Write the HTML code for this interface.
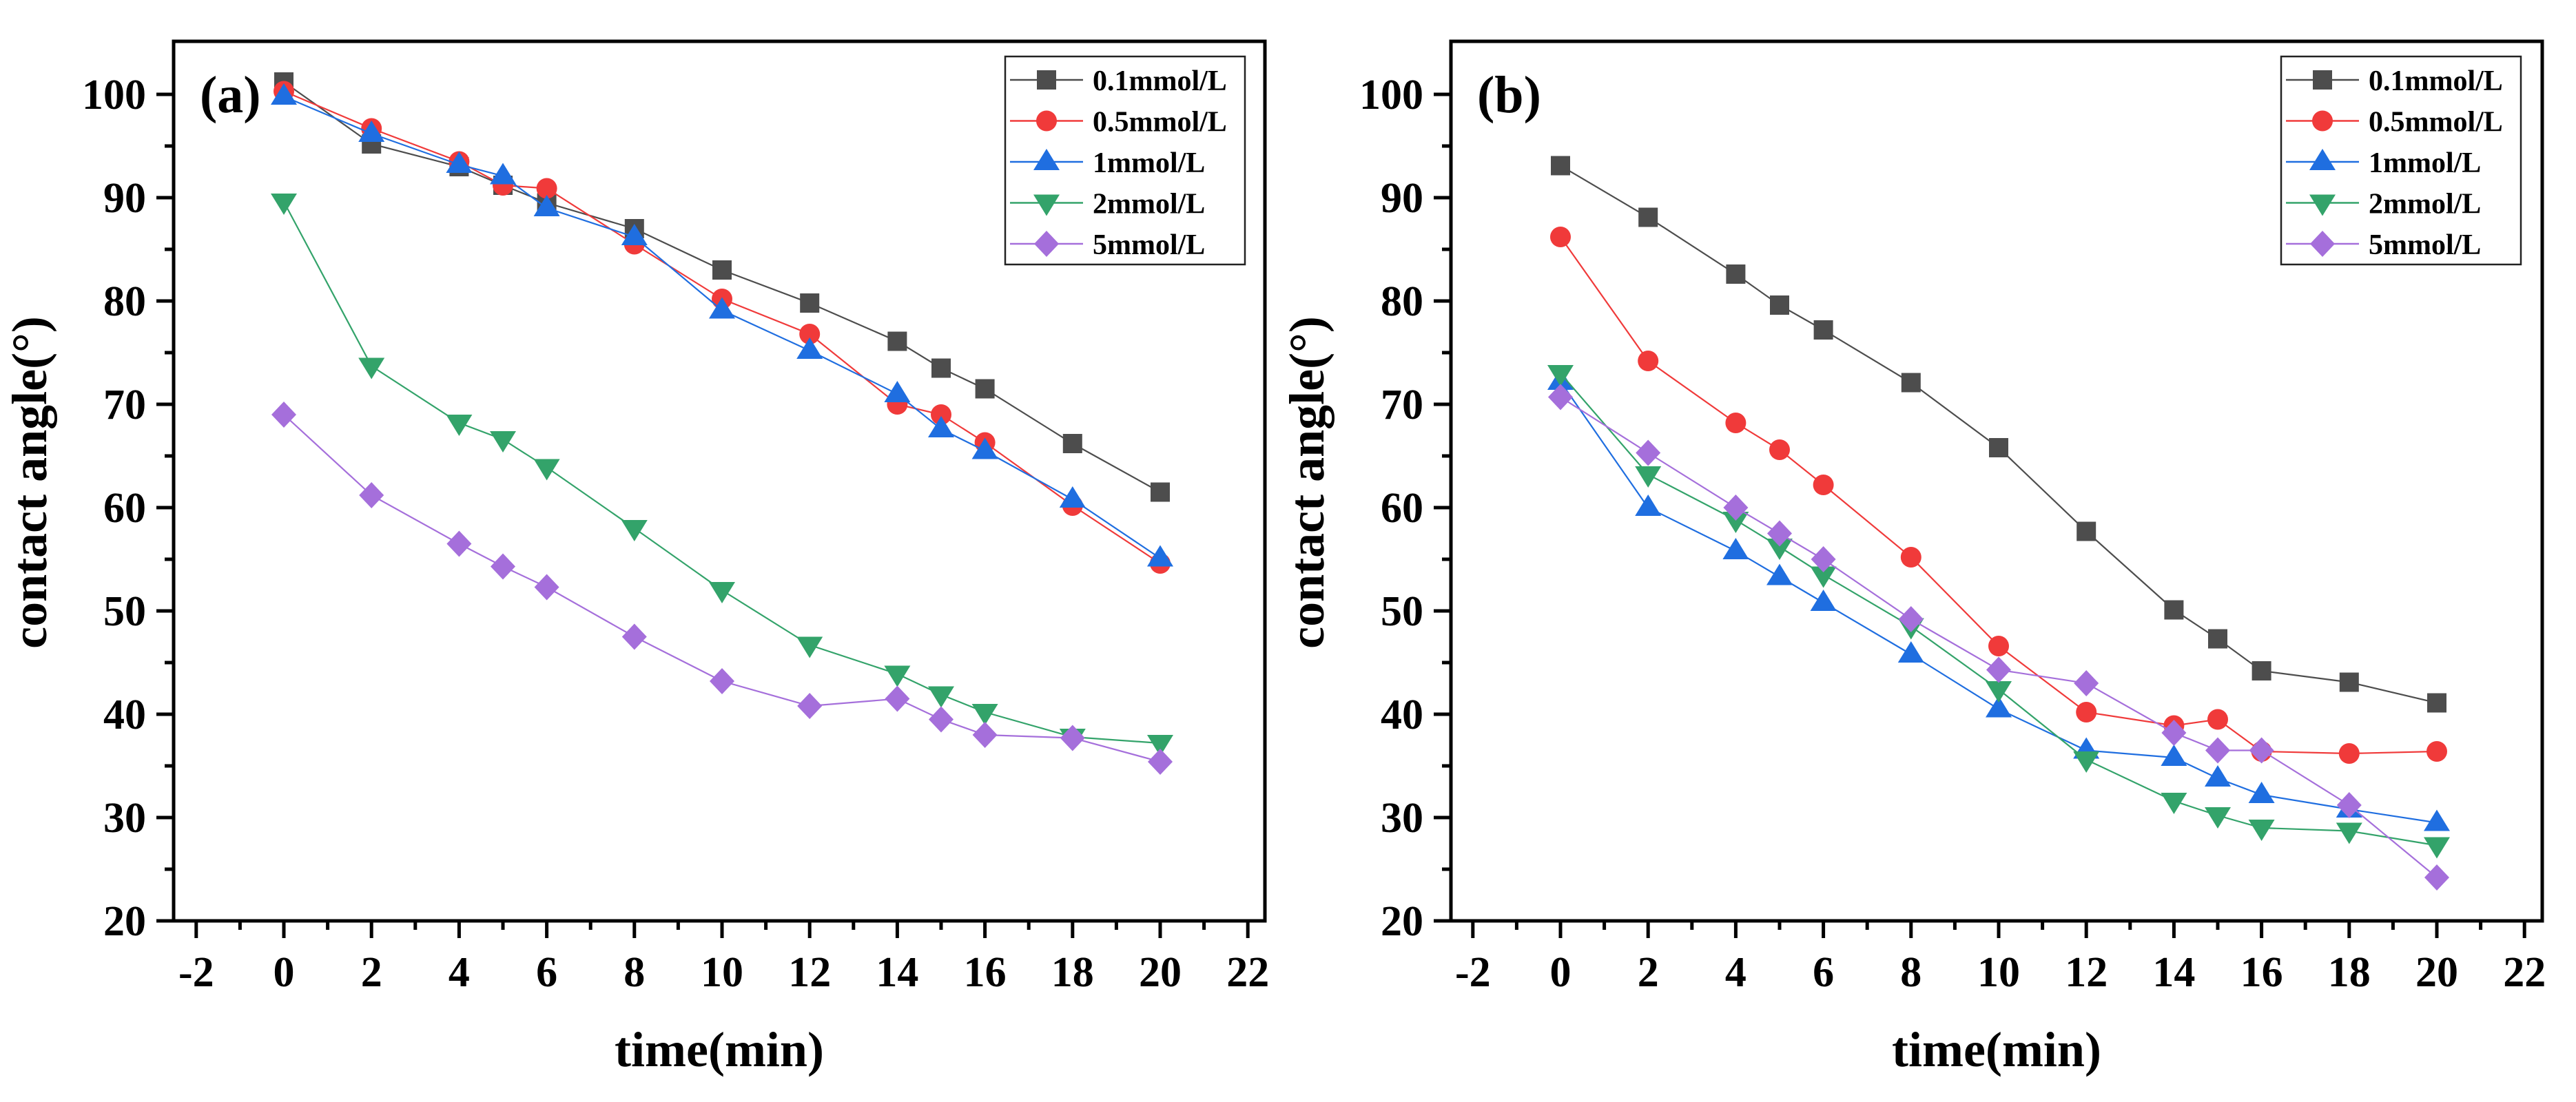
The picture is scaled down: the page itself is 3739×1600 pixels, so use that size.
<!DOCTYPE html>
<html><head><meta charset="utf-8"><style>
html,body{margin:0;padding:0;background:#fff;}
svg{display:block;font-family:"Liberation Serif",serif;font-weight:bold;}
</style></head><body>
<svg id="chart" width="3739" height="1600" viewBox="0 0 3739 1600" xmlns="http://www.w3.org/2000/svg"></svg>
<script>
const times = [0,2,4,5,6,8,10,12,14,15,16,18,20];
const seriesNames = ["0.1mmol/L","0.5mmol/L","1mmol/L","2mmol/L","5mmol/L"];
const xTicks = [-2,0,2,4,6,8,10,12,14,16,18,20,22];
const yTicks = [20,30,40,50,60,70,80,90,100];
const a01 = [101.2,95.2,93,91.2,89.5,87,83,79.8,76.1,73.5,71.5,66.2,61.5];
const a05 = [100.3,96.7,93.5,91.2,90.9,85.5,80.2,76.8,70,69,66.3,60.2,54.6];
const a1  = [99.8,96.2,93.2,92.1,89,86.2,79.1,75.2,71,67.6,65.5,60.8,55.1];
const a2  = [89.6,73.7,68.2,66.6,63.9,58,52,46.7,43.9,41.9,40.2,37.8,37.2];
const a5  = [69,61.2,56.5,54.3,52.3,47.5,43.2,40.8,41.5,39.5,38,37.7,35.4];
const b01 = [93.1,88.1,82.6,79.6,77.2,72.1,65.8,57.7,50.1,47.3,44.2,43.1,41.1];
const b05 = [86.2,74.2,68.2,65.6,62.2,55.2,46.6,40.2,38.9,39.5,36.4,36.2,36.4];
const b1  = [72.2,60,55.8,53.3,50.8,45.8,40.5,36.5,35.8,33.8,32.2,30.8,29.5];
const b2  = [73,63.2,58.8,56.2,53.5,48.5,42.4,35.6,31.6,30.2,29,28.7,27.3];
const b5  = [70.7,65.3,60,57.5,55,49.2,44.3,43,38.2,36.5,36.5,31.2,24.2];

const NS="http://www.w3.org/2000/svg";
const svg=document.getElementById('chart');
const colors=["#4d4d4d","#f03a3a","#1f6ee0","#33a36a","#a56fdb"];
const shapes=["square","circle","up","down","diamond"];
function mk(tag,attrs,parent){const e=document.createElementNS(NS,tag);for(const k in attrs)e.setAttribute(k,attrs[k]);(parent||svg).appendChild(e);return e;}
function marker(shape,cx,cy,color,g){
  let e;
  if(shape==="square") e=mk('rect',{x:cx-14,y:cy-14,width:28,height:28,fill:color},g);
  else if(shape==="circle") e=mk('circle',{cx:cx,cy:cy,r:15,fill:color},g);
  else if(shape==="up") e=mk('polygon',{points:`${cx},${cy-19} ${cx+19},${cy+12} ${cx-19},${cy+12}`,fill:color},g);
  else if(shape==="down") e=mk('polygon',{points:`${cx},${cy+19} ${cx+19},${cy-12} ${cx-19},${cy-12}`,fill:color},g);
  else e=mk('polygon',{points:`${cx},${cy-19} ${cx+18},${cy} ${cx},${cy+19} ${cx-18},${cy}`,fill:color},g);
  return e;
}
function panel(opt){
  const L=opt.left,R=opt.right,T=60,B=1337;
  const x0=opt.x0, ux=63.6, y100=137, uy=15;
  const X=v=>x0+v*ux, Y=v=>y100+(100-v)*uy;
  const g=mk('g',{});
  
  
  const fr=mk('rect',{x:L,y:T,width:R-L,height:B-T,fill:'none',stroke:'#000','stroke-width':5},g);
  
  
  // x ticks
  for(let v=-2;v<=22;v++){
    const major=v%2===0;
    const t=mk('line',{x1:X(v),x2:X(v),y1:B,y2:B+(major?25:13),stroke:'#000','stroke-width':5},g);
    
    
  }
  xTicks.forEach(v=>{
    const t=mk('text',{x:X(v),y:B+95,'text-anchor':'middle','font-size':62},g);
    t.textContent=v;
    
    
  });
  for(let v=20;v<=100;v+=5){
    const major=v%10===0;
    const t=mk('line',{x1:L,x2:L-(major?25:13),y1:Y(v),y2:Y(v),stroke:'#000','stroke-width':5},g);
    
    
  }
  yTicks.forEach(v=>{
    const t=mk('text',{x:L-40,y:Y(v)+21,'text-anchor':'end','font-size':62},g);
    t.textContent=v;
    
    
  });
  const yt=mk('text',{x:0,y:0,'text-anchor':'middle','font-size':72,transform:`translate(${L-185},${(T+B)/2+2}) rotate(-90)`},g);
  yt.textContent='contact angle(°)';
  
  
  const xt=mk('text',{x:(L+R)/2,y:1548,'text-anchor':'middle','font-size':72},g);
  xt.textContent='time(min)';
  
  
  const pl=mk('text',{x:L+38,y:163,'font-size':76},g);
  pl.textContent=opt.label;
  
  
  opt.data.forEach((arr,i)=>{
    const sg=mk('g',{},g);
    
    
    const pts=arr.map((v,j)=>X(times[j])+','+Y(v)).join(' ');
    const ln=mk('polyline',{points:pts,fill:'none',stroke:colors[i],'stroke-width':2.2},sg);
    
    
    arr.forEach((v,j)=>{
      const m=marker(shapes[i],X(times[j]),Y(v),colors[i],sg);
      
      
    });
  });
  // legend
  const lg=mk('g',{},g);
  
  
  const lb=mk('rect',{x:opt.legX,y:82,width:348,height:302,fill:'#fff',stroke:'#222','stroke-width':2.5},lg);
  
  
  seriesNames.forEach((n,i)=>{
    const ry=116+i*59.5;
    const e=mk('g',{},lg);
    
    
    mk('line',{x1:opt.legX+7,x2:opt.legX+113,y1:ry,y2:ry,stroke:colors[i],'stroke-width':2.5},e);
    marker(shapes[i],opt.legX+60,ry,colors[i],e);
    const t=mk('text',{x:opt.legX+127,y:ry+15,'font-size':42},e);
    t.textContent=n;
  });
}
panel({name:'panel-a',label:'(a)',left:252,right:1836,x0:412,legX:1459,data:[a01,a05,a1,a2,a5]});
panel({name:'panel-b',label:'(b)',left:2106,right:3690,x0:2265,legX:3311,data:[b01,b05,b1,b2,b5]});
</script>
</body></html>
